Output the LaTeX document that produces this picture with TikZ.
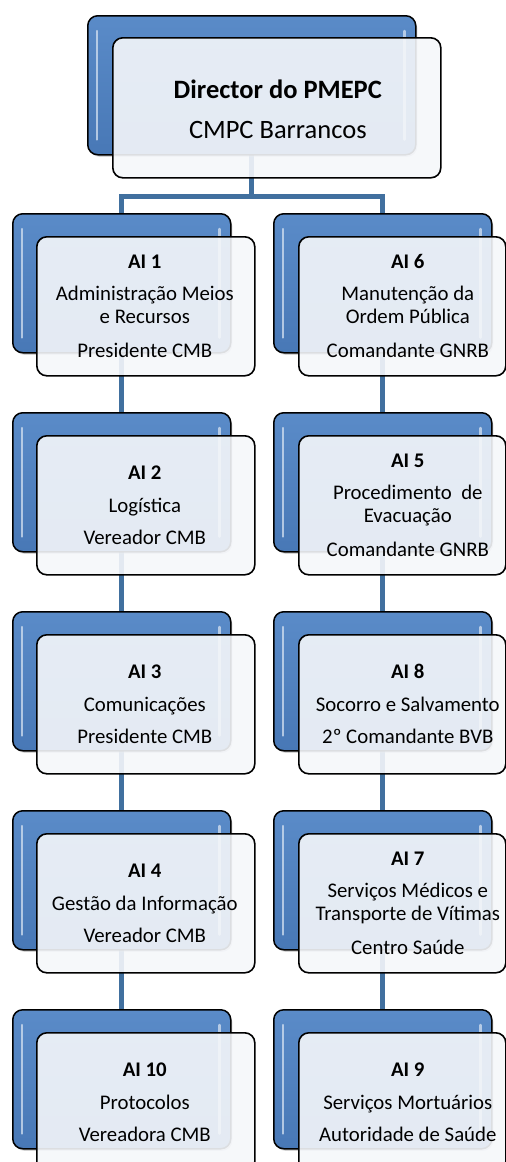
\documentclass[tikz,border=0pt]{standalone}
\usepackage{fontspec}
\setmainfont{Carlito}
\usetikzlibrary{shadows,calc}
\pgfdeclarelayer{bg}
\pgfsetlayers{bg,main}
\definecolor{connblue}{HTML}{41709F}
\definecolor{boxtop}{HTML}{5A8BC8}
\definecolor{boxbot}{HTML}{4878B6}
\definecolor{frontfill}{HTML}{F5F7FA}
\begin{document}
\begin{tikzpicture}[x=1pt,y=-1pt,
  backbox/.style={draw=black, line width=1.5pt, rounded corners=10pt,
    top color=boxtop, bottom color=boxbot,
    minimum width=218pt, minimum height=139pt, anchor=north west, inner sep=0pt,
    drop shadow={opacity=0.35, shadow xshift=1.5pt, shadow yshift=-2pt}},
  frontbox/.style={draw=black, line width=1.6pt, rounded corners=10pt,
    fill=frontfill, fill opacity=0.9,
    minimum width=218pt, minimum height=139pt, anchor=north west, inner sep=0pt},
  hl/.style={white!80!boxtop, opacity=0.7, line width=2.5pt, line cap=round},
  txt/.style={align=center, font=\fontsize{20.8}{23}\selectfont, inner sep=0pt, text=black},
  toptxt/.style={align=center, font=\fontsize{26.5}{32}\selectfont, inner sep=0pt, text=black},
  connector/.style={draw=connblue, line width=5pt, line join=miter}]
\useasboundingbox (0,0) rectangle (506,1162);
\clip (0,0) rectangle (506,1162);
% back (blue) boxes
\node[backbox, minimum width=328pt] (b0) at (87,15) {};
\node[backbox] (l1) at (12,213) {};
\node[backbox] (l2) at (12,412) {};
\node[backbox] (l3) at (12,611) {};
\node[backbox] (l4) at (12,810) {};
\node[backbox] (l5) at (12,1009) {};
\node[backbox] (r1) at (273,213) {};
\node[backbox] (r2) at (273,412) {};
\node[backbox] (r3) at (273,611) {};
\node[backbox] (r4) at (273,810) {};
\node[backbox] (r5) at (273,1009) {};
% highlights
\foreach \n in {b0,l1,l2,l3,l4,l5,r1,r2,r3,r4,r5}{
  \draw[hl] ($(\n.north west)+(10,16)$) -- ($(\n.south west)+(10,-16)$);
  \draw[hl] ($(\n.north east)+(-12,16)$) -- ($(\n.south east)+(-12,-16)$);
}
% front boxes
\node[frontbox, minimum width=328pt, minimum height=140pt] (f0) at (112,37) {};
\node[frontbox] (f1) at (36,236) {};
\node[frontbox] (f2) at (36,435) {};
\node[frontbox] (f3) at (36,634) {};
\node[frontbox] (f4) at (36,833) {};
\node[frontbox] (f5) at (36,1032) {};
\node[frontbox, minimum width=207pt] (g1) at (298,236) {};
\node[frontbox, minimum width=207pt] (g2) at (298,435) {};
\node[frontbox, minimum width=207pt] (g3) at (298,634) {};
\node[frontbox, minimum width=207pt] (g4) at (298,833) {};
\node[frontbox, minimum width=207pt] (g5) at (298,1032) {};
% texts
\node[toptxt] (t0) at ($(f0.center)+(1,1)$) {\textbf{Director do PMEPC}\\[8pt]CMPC Barrancos};
\node[txt] (t1) at ($(f1.center)+(-1,0)$) {\textbf{AI 1}\\[9pt]Administração Meios\\e Recursos\\[11pt]Presidente CMB};
\node[txt] (t2) at ($(f2.center)+(-1,0)$) {\textbf{AI 2}\\[10pt]Logística\\[9pt]Vereador CMB};
\node[txt] (t3) at ($(f3.center)+(-1,0)$) {\textbf{AI 3}\\[10pt]Comunicações\\[9pt]Presidente CMB};
\node[txt] (t4) at ($(f4.center)+(-1,0)$) {\textbf{AI 4}\\[10pt]Gestão da Informação\\[9pt]Vereador CMB};
\node[txt] (t5) at ($(f5.center)+(-1,0)$) {\textbf{AI 10}\\[10pt]Protocolos\\[9pt]Vereadora CMB};
\node[txt] (u1) at ($(g1.center)+(5.5,0)$) {\textbf{AI 6}\\[9pt]Manutenção da\\Ordem Pública\\[11pt]Comandante GNRB};
\node[txt] (u2) at ($(g2.center)+(5.5,0)$) {\textbf{AI 5}\\[9pt]Procedimento\ \ de\\Evacuação\\[11pt]Comandante GNRB};
\node[txt] (u3) at ($(g3.center)+(5.5,0)$) {\textbf{AI 8}\\[10pt]Socorro e Salvamento\\[9pt]2º Comandante BVB};
\node[txt] (u4) at ($(g4.center)+(5.5,0)$) {\textbf{AI 7}\\[9pt]Serviços Médicos e\\Transporte de Vítimas\\[11pt]Centro Saúde};
\node[txt] (u5) at ($(g5.center)+(5.5,0)$) {\textbf{AI 9}\\[10pt]Serviços Mortuários\\[9pt]Autoridade de Saúde};
% connectors
\coordinate (jl) at (l1.center |- 0,196);
\coordinate (jr) at (r1.center |- 0,196);
\begin{pgfonlayer}{bg}
  \draw[connector] (b0.center) -- (b0.center |- jl);
  \draw[connector] (l5.center) -- (jl) -- (jr) -- (r5.center);
\end{pgfonlayer}
\end{tikzpicture}
\end{document}
